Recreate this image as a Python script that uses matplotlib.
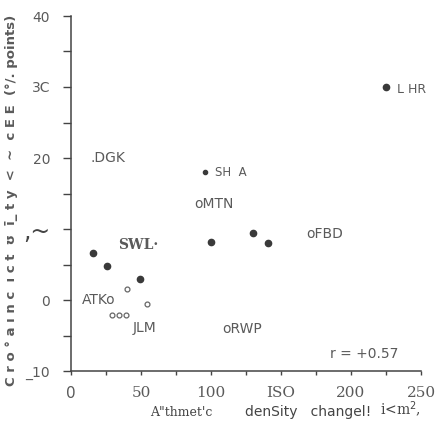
import matplotlib
matplotlib.use("Agg")
import matplotlib.pyplot as plt

# filled dots (arithmetic density change, cropping intensity change)
filled_x = [225, 96, 15.5, 26, 49, 100, 130, 141]
filled_y = [30, 18, 6.6, 4.8, 3.0, 8.1, 9.5, 8.0]
filled_size = [4.5, 3, 4.5, 4.5, 4.5, 4.5, 4.5, 4.5]

# open circles
open_x = [40, 54, 29, 34, 39]
open_y = [1.6, -0.5, -2.1, -2.1, -2.1]

# point labels: text, x, y
label_text = [".DGK", "SH  A", "L HR", "oMTN", "oFBD", "oRWP", "ATKo", "JLM"]
label_x = [14, 103, 233, 88, 168, 108, 8, 44]
label_y = [20, 18, 29.7, 13.5, 9.3, -4.1, 0, -4.0]
label_size = [10, 8.5, 9, 10, 10, 10, 10, 10]

yticks = [-10, 0, 10, 20, 30, 40]
ytick_labels = ["_10", "0", ",~", "20", "3C", "40"]
xticks = [0, 50, 100, 150, 200, 250]
xtick_labels = ["0", "50", "100", "ISO", "200", "250"]

ink = "#3a3a3a"
grey = "#5a5a5a"

fig = plt.figure(figsize=(4.37, 4.30), dpi=100)
ax = fig.add_axes([71 / 437, 1 - 371 / 430, 350 / 437, 355 / 430])
ax.set_xlim(0, 250)
ax.set_ylim(-10, 40)

for x, y, s in zip(filled_x, filled_y, filled_size):
    ax.plot(x, y, "o", ms=s, color=ink, mec=ink, clip_on=False)
ax.plot(open_x, open_y, "o", ms=3.5, mfc="none", mec="#666666", mew=0.9)

for t, x, y, s in zip(label_text, label_x, label_y, label_size):
    ax.text(x, y, t, fontsize=s, color=grey, ha="left", va="center")
ax.text(34, 7.8, "SWL\u00b7", fontsize=10, color=grey, ha="left", va="center",
        family="DejaVu Serif", fontweight="bold")
ax.text(185, -7.6, "r = +0.57", fontsize=10, color=grey, ha="left", va="center")

for side in ("top", "right"):
    ax.spines[side].set_visible(False)
for side in ("left", "bottom"):
    ax.spines[side].set_color("#444444")
    ax.spines[side].set_linewidth(1.1)

ax.set_yticks(yticks)
ax.set_yticklabels(ytick_labels, fontsize=10, color=grey)
ax.get_yticklabels()[2].set_fontsize(17)
ax.get_yticklabels()[2].set_color("#444444")
ax.set_yticks(range(-5, 40, 10), minor=True)
ax.set_xticks(xticks)
ax.set_xticklabels(xtick_labels, fontsize=11, color=grey, family="DejaVu Serif")
ax.get_xticklabels()[0].set_family("DejaVu Sans")
ax.set_xticks(range(25, 250, 50), minor=True)
ax.tick_params(axis="y", which="both", direction="out", length=6, width=1, color="#444444", pad=9)
ax.tick_params(axis="x", which="both", direction="out", length=3, width=1, color="#444444", pad=8)

fig.text(12 / 437, 1 - 200 / 430,
         "C r o \u00b0 a ı n c  ı c t  \u028a  \u012b_ t y  <  ~  c E E  (\u00b0/. points)",
         rotation=90, fontsize=9.5, color=grey, fontweight="bold", ha="center", va="center")

fig.text(150 / 437, 1 - 412 / 430, "A\"thmet'c", fontsize=9, color="#444444",
         family="DejaVu Serif", ha="left", va="center")
fig.text(245 / 437, 1 - 412 / 430, "denSity   changel!", fontsize=10, color="#444444",
         ha="left", va="center")
fig.text(380 / 437, 1 - 410 / 430, "i<m$^2$,", fontsize=10, color="#444444",
         family="DejaVu Serif", ha="left", va="center")

fig.savefig("out.png", dpi=100, facecolor="white")
